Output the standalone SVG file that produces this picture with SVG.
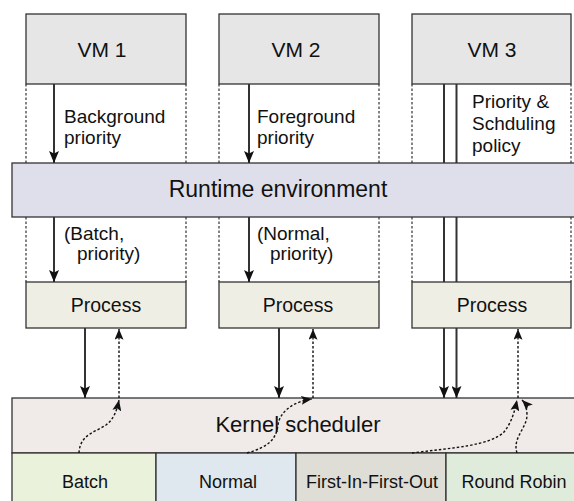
<svg xmlns="http://www.w3.org/2000/svg" width="574" height="501" viewBox="0 0 574 501">
  <defs>
    <marker id="head" viewBox="0 0 12 10" refX="12" refY="5" markerWidth="12" markerHeight="10" markerUnits="userSpaceOnUse" orient="auto">
      <path d="M0,0 L12,5 L0,10 L2.5,5 z" fill="#111"/>
    </marker>
    <marker id="headS" viewBox="0 0 12 10" refX="12" refY="5" markerWidth="11" markerHeight="9" markerUnits="userSpaceOnUse" orient="auto">
      <path d="M0,0 L12,5 L0,10 L2.5,5 z" fill="#111"/>
    </marker>
  </defs>
  <style>
    text { font-family: "Liberation Sans", Arial, sans-serif; fill: #111; }
    .box { stroke: #333; stroke-width: 1.3; }
    .vm { fill: #e6e6e6; }
    .rt { fill: #dfdfeb; }
    .proc { fill: #eeeee5; }
    .kern { fill: #f0ebe8; }
    .guide { stroke: #333; stroke-width: 1.2; stroke-dasharray: 2.5 2; fill: none; }
    .solid { stroke: #333; stroke-width: 2; fill: none; }
    .dot { stroke: #111; stroke-width: 1.4; stroke-dasharray: 2.5 2; fill: none; }
    .title { font-size: 21px; text-anchor: middle; }
    .lbl { font-size: 19px; }
    .pname { font-size: 19.5px; text-anchor: middle; }
    .pol { font-size: 18px; text-anchor: middle; }
  </style>

  <!-- dotted column guides under each VM -->
  <g id="guides">
    <path class="guide" d="M26,84 V163 M186,84 V163 M219,84 V163 M379,84 V163 M412,84 V163 M571,84 V163"/>
    <path class="guide" d="M26,217 V282 M186,217 V282 M219,217 V282 M379,217 V282 M412,217 V282 M571,217 V282"/>
  </g>

  <g id="vm1">
    <rect class="box vm" x="26" y="14" width="160" height="70"/>
    <text class="title" x="102" y="57">VM 1</text>
  </g>
  <g id="vm2">
    <rect class="box vm" x="219" y="14" width="160" height="70"/>
    <text class="title" x="296" y="57">VM 2</text>
  </g>
  <g id="vm3">
    <rect class="box vm" x="412" y="14" width="159" height="70"/>
    <text class="title" x="492" y="57">VM 3</text>
  </g>

  <g id="runtime">
    <rect class="box rt" x="12" y="163" width="580" height="54"/>
    <text x="278" y="197" font-size="23" text-anchor="middle">Runtime environment</text>
  </g>

  <g id="process1">
    <rect class="box proc" x="26" y="282" width="160" height="46"/>
    <text class="pname" x="106" y="312">Process</text>
  </g>
  <g id="process2">
    <rect class="box proc" x="219" y="282" width="160" height="46"/>
    <text class="pname" x="298" y="312">Process</text>
  </g>
  <g id="process3">
    <rect class="box proc" x="412" y="282" width="159" height="46"/>
    <text class="pname" x="492" y="312">Process</text>
  </g>

  <g id="kernel">
    <rect class="box kern" x="12" y="398" width="580" height="55"/>
    <text x="298" y="432" font-size="22" text-anchor="middle">Kernel scheduler</text>
  </g>

  <g id="batch">
    <rect class="box" fill="#ebf2dc" x="12" y="453" width="144" height="60"/>
    <text class="pol" x="85" y="488">Batch</text>
  </g>
  <g id="normal">
    <rect class="box" fill="#dfe8ef" x="156" y="453" width="140" height="60"/>
    <text class="pol" x="228" y="488">Normal</text>
  </g>
  <g id="fifo">
    <rect class="box" fill="#deddd6" x="296" y="453" width="150" height="60"/>
    <text class="pol" x="372" y="488">First-In-First-Out</text>
  </g>
  <g id="roundrobin">
    <rect class="box" fill="#dfecdc" x="446" y="453" width="140" height="60"/>
    <text class="pol" x="514" y="488">Round Robin</text>
  </g>

  <!-- labels on the VM connectors -->
  <g id="labels">
    <text class="lbl" x="64" y="123">Background</text>
    <text class="lbl" x="64" y="144">priority</text>
    <text class="lbl" x="257" y="123">Foreground</text>
    <text class="lbl" x="257" y="144">priority</text>
    <text class="lbl" x="472" y="108">Priority &amp;</text>
    <text class="lbl" x="472" y="130">Schduling</text>
    <text class="lbl" x="472" y="152">policy</text>
    <text class="lbl" x="64" y="240">(Batch,</text>
    <text class="lbl" x="77" y="260">priority)</text>
    <text class="lbl" x="257" y="240">(Normal,</text>
    <text class="lbl" x="270" y="260">priority)</text>
  </g>

  <g id="connectors">
    <!-- VM to runtime -->
    <line class="solid" x1="54" y1="84" x2="54" y2="163" marker-end="url(#head)"/>
    <line class="solid" x1="249" y1="84" x2="249" y2="163" marker-end="url(#head)"/>
    <line class="solid" x1="444" y1="84" x2="444" y2="163"/>
    <line class="solid" x1="456.5" y1="84" x2="456.5" y2="163"/>
    <!-- runtime to process -->
    <line class="solid" x1="54" y1="217" x2="54" y2="282" marker-end="url(#head)"/>
    <line class="solid" x1="249" y1="217" x2="249" y2="282" marker-end="url(#head)"/>
    <line class="solid" x1="444" y1="217" x2="444" y2="282"/>
    <line class="solid" x1="456.5" y1="217" x2="456.5" y2="282"/>
    <!-- process to kernel -->
    <line class="solid" x1="85" y1="328" x2="85" y2="398" marker-end="url(#head)"/>
    <line class="solid" x1="279" y1="328" x2="279" y2="398" marker-end="url(#head)"/>
    <line class="solid" x1="444" y1="328" x2="444" y2="398" marker-end="url(#head)"/>
    <line class="solid" x1="456.5" y1="328" x2="456.5" y2="398" marker-end="url(#head)"/>
    <!-- kernel back to process -->
    <line class="dot" x1="119" y1="398" x2="119" y2="329" marker-end="url(#headS)"/>
    <line class="dot" x1="313" y1="398" x2="313" y2="329" marker-end="url(#headS)"/>
    <line class="dot" x1="518" y1="398" x2="518" y2="329" marker-end="url(#headS)"/>
    <!-- policies into the scheduler -->
    <path class="dot" d="M79,453 C80,434 96,432 106,425 C114,419 117,410 119,400" marker-end="url(#headS)"/>
    <path class="dot" d="M247,453 C268,447 276,440 278,425 C280,410 296,401 312,399" marker-end="url(#headS)"/>
    <path class="dot" d="M412,453 C450,448 490,446 504,432 C512,422 515,410 517,400" marker-end="url(#headS)"/>
    <path class="dot" d="M517,453 C512,438 527,428 527,415 C527,408 525,403 522,400" marker-end="url(#headS)"/>
  </g>
</svg>
